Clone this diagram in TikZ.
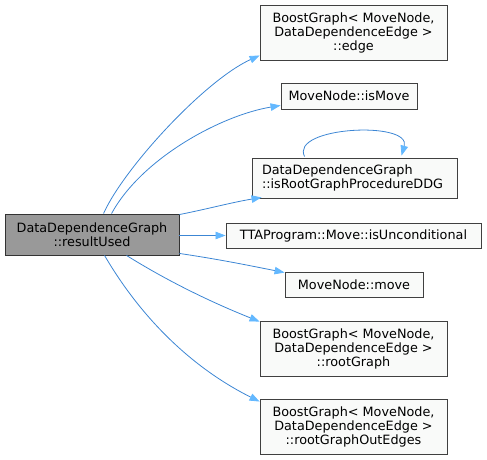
\documentclass[tikz,border=0pt]{standalone}
\usepackage{fontspec}
\setmainfont{DejaVu Sans}
\usetikzlibrary{arrows.meta}
\definecolor{edgeblue}{HTML}{3C86D4}
\definecolor{tipblue}{HTML}{63B8FF}
\definecolor{boxborder}{HTML}{404040}
\definecolor{boxfill}{HTML}{F9FAF9}
\definecolor{mainfill}{HTML}{999999}
\tikzset{
  fnode/.style={draw=boxborder, fill=boxfill, line width=0.9pt, inner sep=0pt, align=center,
     font=\fontsize{12.8}{14}\selectfont, minimum height=25pt},
  mnode/.style={fnode, fill=mainfill, draw=black!80},
  conn/.style={draw=edgeblue, line width=0.8pt, -{Triangle[length=10pt,width=7.5pt,color=tipblue]}},
}
\begin{document}
\begin{tikzpicture}[x=1pt,y=-1pt]
\useasboundingbox (0,0) rectangle (487,460);
\node[mnode, minimum width=174pt, minimum height=41pt] (main) at (92,234.5) {DataDependenceGraph\\::resultUsed};
\node[fnode, minimum width=187pt, minimum height=55pt] (edge) at (353.5,32.5) {BoostGraph< MoveNode,\\DataDependenceEdge >\\::edge};
\node[fnode, minimum width=136pt, minimum height=26pt] (ismove) at (349,96) {MoveNode::isMove};
\node[fnode, text width=185pt, inner xsep=10pt, minimum height=40pt, align=left] (isroot) at (354.5,178) {DataDependenceGraph\\::isRootGraphProcedureDDG};
\node[fnode, minimum width=255pt, minimum height=25pt] (isuncond) at (353.5,235.5) {TTAProgram::Move::isUnconditional};
\node[fnode, minimum width=138pt, minimum height=25pt] (move) at (354,284.5) {MoveNode::move};
\node[fnode, minimum width=187pt, minimum height=55pt] (rootgraph) at (353.5,348.5) {BoostGraph< MoveNode,\\DataDependenceEdge >\\::rootGraph};
\node[fnode, minimum width=187pt, minimum height=55pt] (rootout) at (353.5,426.5) {BoostGraph< MoveNode,\\DataDependenceEdge >\\::rootGraphOutEdges};

\draw[conn] ([xshift=99pt]main.north west) .. controls +(20,-45) and +(-55,25) .. ([yshift=5pt]edge.south west);
\draw[conn] ([xshift=107pt]main.north west) .. controls +(30,-55) and +(-60,10) .. ([yshift=4pt]ismove.south west);
\draw[conn] ([yshift=-1pt]main.north east) .. controls +(30,-6) and +(-30,5) .. ([xshift=10pt,yshift=1pt]isroot.south west);
\draw[conn] (main.east |- isuncond.west) -- (isuncond.west);
\draw[conn] ([yshift=2pt]main.south east) .. controls +(40,6) and +(-40,-8) .. ([yshift=-1pt]move.north west);
\draw[conn] ([xshift=122pt]main.south west) .. controls +(40,25) and +(-50,-20) .. ([yshift=-1pt]rootgraph.north west);
\draw[conn] ([xshift=100pt]main.south west) .. controls +(35,60) and +(-70,-35) .. ([yshift=-3pt]rootout.north west);
\draw[conn] ([xshift=53pt,yshift=1pt]isroot.north west) .. controls +(-15,-30) and +(10,-35) .. ([xshift=150pt,yshift=2pt]isroot.north west);
\end{tikzpicture}
\end{document}
